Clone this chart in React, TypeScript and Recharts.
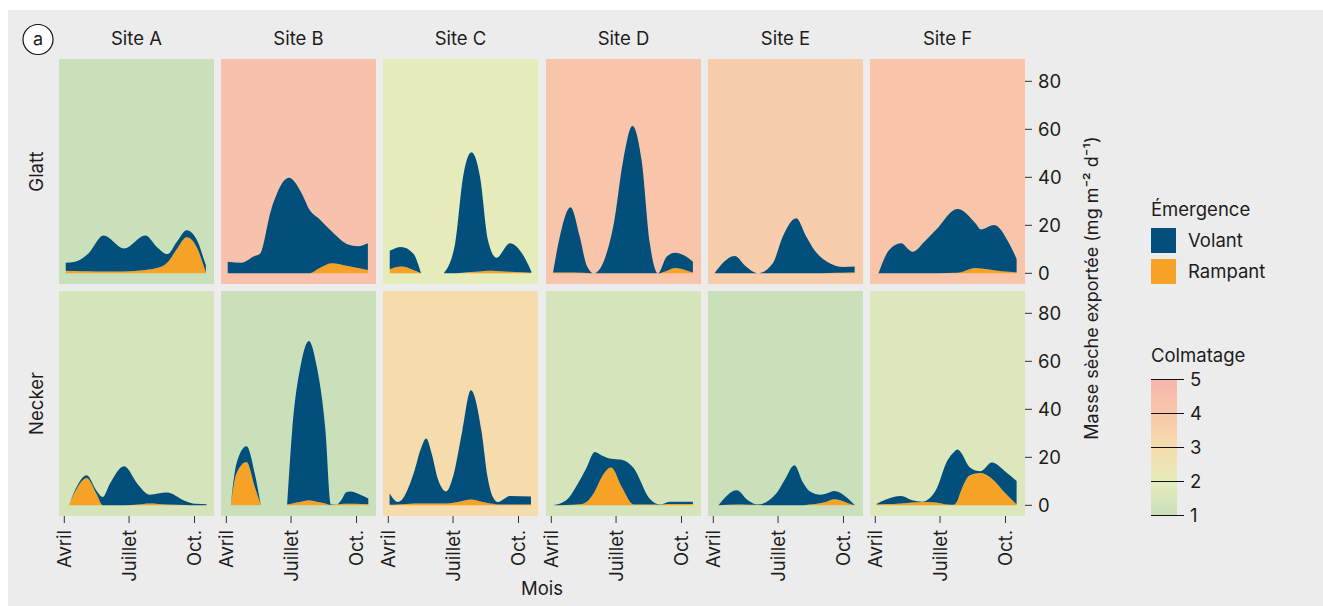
import React from 'react';
import { AreaChart, Area, XAxis, YAxis, CartesianGrid } from 'recharts';

// facets
const sites = ['Site A', 'Site B', 'Site C', 'Site D', 'Site E', 'Site F'];
const rivers = ['Glatt', 'Necker'];

// x axis: days since 1 April
const monthTicks = [0, 91, 183];
const monthLabels = ['Avril', 'Juillet', 'Oct.'];
const yTicks = [0, 20, 40, 60, 80];
const colmatageTicks = [1, 2, 3, 4, 5];

// colmatage level per panel (background colour)
const glattColmatage = [1.0, 4.3, 2.0, 4.05, 3.7, 4.1];
const neckerColmatage = [1.4, 1.0, 3.0, 1.4, 1.0, 1.65];

// --- Glatt ---
const glattADays = [2, 15, 34, 55, 84, 114, 130, 145, 158, 172, 188, 196, 199];
const glattAVolant = [3.3, 3.8, 7.4, 14.9, 9.5, 14.3, 8.8, 3.5, 3.0, 2.9, 3.1, 3.0, 3.1];
const glattARampant = [1.1, 1.0, 0.9, 0.8, 0.8, 1.4, 2.2, 4.5, 10, 15, 9.7, 3.0, 0.3];

const glattBDays = [2, 21, 40, 47, 63, 88, 106, 117, 130, 148, 171, 185, 199];
const glattBVolant = [4.8, 4.4, 7.2, 8.0, 26.4, 39.8, 33.3, 26.5, 20.8, 13.3, 9.0, 9.1, 11.1];
const glattBRampant = [0, 0, 0, 0, 0, 0, 0, 0, 2.0, 4.2, 3.0, 2.2, 1.4];

const glattCDays = [2, 18, 35, 46, 62, 78, 94, 105, 117, 129, 140, 152, 171, 188, 201];
const glattCVolant = [7.7, 8.2, 6.9, 0, null, 0, 12.5, 39.8, 49.9, 39.2, 12.8, 5.5, 11.9, 7.9, 0.6];
const glattCRampant = [1.7, 2.8, 1.4, 0, null, 0, 0, 0.2, 0.5, 0.8, 1.1, 1.0, 0.6, 0.4, 0.2];

const glattDDays = [2.5, 12, 27, 40, 49.5, 60, 87, 101, 114, 127, 138.5, 150, 162, 174, 190, 199];
const glattDVolant = [0.2, 15.0, 27.2, 15.1, 3.4, 0, 19.4, 47, 61.4, 47, 12.5, 0, 5.9, 6.4, 5.7, 4.5];
const glattDRampant = [0.3, 0.3, 0.3, 0.2, 0.1, 0, 0, 0, 0, 0, 0, 0, 1.0, 2.2, 1.2, 0.3];

const glattEDays = [1.7, 13, 30, 46, 62.5, 83.6, 97.7, 116.5, 130.6, 142, 163.7, 182, 198.7];
const glattEVolant = [0, 4.2, 7.2, 2.8, 0, 4.2, 15.3, 22.9, 15.3, 9.7, 4.1, 2.4, 2.5];
const glattERampant = [0, 0, 0, 0, 0, 0, 0, 0, 0, 0, 0.1, 0.2, 0.3];

const glattFDays = [4.5, 19.5, 36, 52, 70, 85, 115.5, 141, 148.4, 167, 188, 198.6];
const glattFVolant = [0, 9.7, 12.5, 9.0, 13.5, 18, 26.6, 18.6, 16.3, 18.8, 11.9, 5.7];
const glattFRampant = [0, 0, 0, 0, 0, 0, 0.2, 2.2, 2.0, 1.3, 0.6, 0.3];

// --- Necker ---
const neckerADays = [6.6, 15, 31.5, 45.5, 54, 64, 84, 104, 120, 144, 170, 184, 200];
const neckerAVolant = [0, 0.65, 1.1, 1.4, 3.5, 9, 16.25, 8.2, 3.7, 5.0, 1.7, 0.6, 0.4];
const neckerARampant = [0, 5.6, 11.4, 4.6, 0, 0, 0, 0.3, 0.7, 0.3, 0.1, 0, 0];

const neckerBDays = [6.3, 14.3, 28.4, 40, 48.5, 67, 85.5, 92.5, 105, 116, 127, 139.4, 147, 155, 161, 169, 174, 190, 199.6];
const neckerBVolant = [0, 4.2, 6.6, 5.6, 0, null, 0, 30.2, 57.5, 66.4, 56.5, 30.2, 0.2, 0, 1.4, 4.9, 5.2, 3.7, 2.4];
const neckerBRampant = [0, 13.2, 18, 7.6, 0, null, 0.3, 0.8, 1.5, 2.1, 1.5, 0.8, 0.2, 0.3, 0.5, 0.6, 0.6, 0.5, 0.4];

const neckerCDays = [1.8, 13.5, 37, 45, 53.4, 61, 69.7, 81.5, 91, 104, 116, 131, 139.5, 147, 154, 171, 200.5];
const neckerCVolant = [4.7, 1.1, 13.9, 22.1, 27.0, 20.7, 10.3, 5.0, 10.9, 29.2, 45.5, 29.5, 10.8, 2.9, 1.1, 3.6, 3.4];
const neckerCRampant = [0.2, 0.3, 0.7, 0.8, 0.8, 0.8, 0.7, 0.8, 1.1, 1.8, 2.4, 1.5, 1.0, 0.6, 0.3, 0.3, 0.3];

const neckerDDays = [2.5, 21, 40, 50, 61, 71, 84, 99, 116, 138, 152.5, 166.5, 199];
const neckerDVolant = [0, 2.0, 10.0, 14.5, 16.4, 9.0, 3.7, 11.4, 15.1, 2.5, 0.1, 1.0, 1.0];
const neckerDRampant = [0, 0.1, 0.4, 1.5, 5.8, 11.8, 15.7, 7.6, 0.3, 0.3, 0.2, 0.5, 0.5];

const neckerEDays = [7.3, 33, 48.5, 62.5, 88.4, 101, 114, 126, 135, 151.6, 158, 170, 186.7, 198.4];
const neckerEVolant = [0, 5.95, 1.9, 0.2, 4.9, 11, 16.7, 9.5, 5.7, 3.4, 3.4, 3.5, 2.3, 0.2];
const neckerERampant = [0, 0.3, 0.2, 0.1, 0, 0, 0, 0, 0.3, 1.0, 1.4, 2.5, 1.2, 0];

const neckerFDays = [1.7, 15, 36, 52, 66, 85, 101.5, 110, 115.5, 119, 133, 148, 164, 183, 198.6];
const neckerFVolant = [0.2, 1.9, 3.1, 0.9, 0.1, 5.05, 18.45, 21.8, 21.2, 17.6, 3.3, 0.7, 6.7, 9.1, 9.8];
const neckerFRampant = [0.3, 0.5, 0.8, 1.2, 1.4, 1.2, 0.3, 0.2, 2.0, 4.9, 12.5, 13.5, 11.1, 4.9, 0.3];

type Series = [number[], (number | null)[], (number | null)[]];

const glattPanels: Series[] = [
  [glattADays, glattAVolant, glattARampant],
  [glattBDays, glattBVolant, glattBRampant],
  [glattCDays, glattCVolant, glattCRampant],
  [glattDDays, glattDVolant, glattDRampant],
  [glattEDays, glattEVolant, glattERampant],
  [glattFDays, glattFVolant, glattFRampant],
];
const neckerPanels: Series[] = [
  [neckerADays, neckerAVolant, neckerARampant],
  [neckerBDays, neckerBVolant, neckerBRampant],
  [neckerCDays, neckerCVolant, neckerCRampant],
  [neckerDDays, neckerDVolant, neckerDRampant],
  [neckerEDays, neckerEVolant, neckerERampant],
  [neckerFDays, neckerFVolant, neckerFRampant],
];

// colmatage colour scale
const colmatageStops: [number, string][] = [
  [1, '#c9e0bb'],
  [2, '#e6ebbb'],
  [3, '#f6dcad'],
  [4, '#f8c6aa'],
  [5, '#f5b6ad'],
];

const VOLANT = '#034f7c';
const RAMPANT = '#f5a226';
const TEXT = '#1c1c1c';
const FONT = "Inter, 'Open Sans', sans-serif";

const PANEL_W = 155;
const PANEL_H = 225;
const colLeft = [59, 221, 383, 546, 708, 870];
const rowTop = [59, 291];
const X_DOMAIN = [-7.45, 210.4];
const Y_DOMAIN = [-4.46, 89.3];
const Y_AXIS_W = 50;
const X_AXIS_H = 70;
const LABEL_PAD = 14; // room left of bottom panels for the rotated "Avril"

const hexToRgb = (h: string) => [1, 3, 5].map(i => parseInt(h.slice(i, i + 2), 16));

function colmatageColor(v: number) {
  for (let i = 0; i < colmatageStops.length - 1; i++) {
    const [a, ca] = colmatageStops[i];
    const [b, cb] = colmatageStops[i + 1];
    if (v <= b || i === colmatageStops.length - 2) {
      const t = Math.max(0, Math.min(1, (v - a) / (b - a)));
      const A = hexToRgb(ca);
      const B = hexToRgb(cb);
      const c = A.map((x, k) => Math.round(x + (B[k] - x) * t));
      return `rgb(${c[0]},${c[1]},${c[2]})`;
    }
  }
  return colmatageStops[0][1];
}

const toRows = ([days, volant, rampant]: Series) =>
  days.map((day, i) => ({ day, volant: volant[i], rampant: rampant[i] }));

const MonthTick = (props: any) => {
  const { x, y, payload } = props;
  const idx = monthTicks.indexOf(payload.value);
  return (
    <text
      x={x}
      y={y}
      transform={`rotate(-90, ${x}, ${y})`}
      textAnchor="end"
      dy="0.36em"
      fontSize={18.5}
      fill={TEXT}
      fontFamily={FONT}
    >
      {monthLabels[idx]}
    </text>
  );
};

const Panel: React.FC<{ row: number; col: number; series: Series; level: number }> = ({
  row,
  col,
  series,
  level,
}) => {
  const lastCol = col === sites.length - 1;
  const bottomRow = row === rivers.length - 1;
  const pad = bottomRow ? LABEL_PAD : 0;
  return (
    <div style={{ position: 'absolute', left: colLeft[col] - pad, top: rowTop[row] }}>
      <AreaChart
        width={PANEL_W + pad + (lastCol ? Y_AXIS_W : 0)}
        height={PANEL_H + (bottomRow ? X_AXIS_H : 0)}
        data={toRows(series)}
        margin={{ top: 0, right: 0, bottom: 0, left: pad }}
      >
        <CartesianGrid fill={colmatageColor(level)} fillOpacity={1} stroke="none" horizontal={false} vertical={false} />
        <XAxis
          type="number"
          dataKey="day"
          domain={X_DOMAIN}
          allowDataOverflow
          ticks={monthTicks}
          interval={0}
          hide={!bottomRow}
          height={X_AXIS_H}
          axisLine={false}
          tickSize={7}
          tickMargin={7}
          stroke="#333"
          tick={MonthTick}
        />
        <YAxis
          orientation="right"
          type="number"
          domain={Y_DOMAIN}
          allowDataOverflow
          ticks={yTicks}
          interval={0}
          hide={!lastCol}
          width={Y_AXIS_W}
          axisLine={false}
          tickSize={7}
          tickMargin={6}
          stroke="#333"
          tick={{ fill: TEXT, fontSize: 18.5, fontFamily: FONT }}
        />
        <Area
          dataKey="rampant"
          stackId="e"
          type="monotone"
          fill={RAMPANT}
          fillOpacity={1}
          stroke="none"
          isAnimationActive={false}
        />
        <Area
          dataKey="volant"
          stackId="e"
          type="monotone"
          fill={VOLANT}
          fillOpacity={1}
          stroke="none"
          isAnimationActive={false}
        />
      </AreaChart>
    </div>
  );
};

export default function App() {
  const levelY = (v: number) => 515 - (v - 1) * 34;
  return (
    <div style={{ position: 'absolute', left: 0, top: 0, width: 1323, height: 606, fontFamily: FONT }}>
      <div style={{ position: 'absolute', left: 8, top: 10, width: 1315, height: 596, background: '#ececec' }} />
      {glattPanels.map((s, c) => (
        <Panel key={`g${c}`} row={0} col={c} series={s} level={glattColmatage[c]} />
      ))}
      {neckerPanels.map((s, c) => (
        <Panel key={`n${c}`} row={1} col={c} series={s} level={neckerColmatage[c]} />
      ))}
      <svg
        width={1323}
        height={606}
        style={{ position: 'absolute', left: 0, top: 0, pointerEvents: 'none' }}
        fontFamily={FONT}
        fill={TEXT}
      >
        <defs>
          <linearGradient id="colmatage" x1="0" y1="1" x2="0" y2="0">
            {colmatageStops.map(([v, c]) => (
              <stop key={v} offset={`${((v - 1) / 4) * 100}%`} stopColor={c} />
            ))}
          </linearGradient>
        </defs>
        <circle cx={38} cy={39.5} r={15} fill="#fff" stroke="#111" strokeWidth={1.2} />
        <text x={38} y={45} textAnchor="middle" fontSize={18}>a</text>
        {sites.map((s, c) => (
          <text key={s} x={colLeft[c] + PANEL_W / 2} y={45} textAnchor="middle" fontSize={18.5}>
            {s}
          </text>
        ))}
        {rivers.map((r, i) => {
          const cy = rowTop[i] + PANEL_H / 2;
          return (
            <text key={r} x={36} y={cy} transform={`rotate(-90, 36, ${cy})`} textAnchor="middle" dy="0.36em" fontSize={18.5}>
              {r}
            </text>
          );
        })}
        <text x={542} y={595} textAnchor="middle" fontSize={18.5}>Mois</text>
        <text x={1092} y={288} transform="rotate(-90, 1092, 288)" textAnchor="middle" dy="0.36em" fontSize={18}>
          Masse sèche exportée (mg m⁻² d⁻¹)
        </text>
        {/* Emergence legend */}
        <text x={1151} y={216} fontSize={18.5}>Émergence</text>
        <rect x={1151} y={228} width={25} height={25} fill={VOLANT} />
        <text x={1188} y={247} fontSize={18.5}>Volant</text>
        <rect x={1151} y={259} width={25} height={25} fill={RAMPANT} />
        <text x={1188} y={278} fontSize={18.5}>Rampant</text>
        {/* Colmatage legend */}
        <text x={1151} y={362} fontSize={18.5}>Colmatage</text>
        <rect x={1151} y={levelY(5)} width={26} height={levelY(1) - levelY(5)} fill="url(#colmatage)" />
        {colmatageTicks.map(v => (
          <g key={v}>
            <line x1={1151} x2={1184} y1={levelY(v) + 0.5} y2={levelY(v) + 0.5} stroke="#111" strokeWidth={1} />
            <text x={1190} y={levelY(v)} dy="0.36em" fontSize={18.5}>
              {v}
            </text>
          </g>
        ))}
      </svg>
    </div>
  );
}
